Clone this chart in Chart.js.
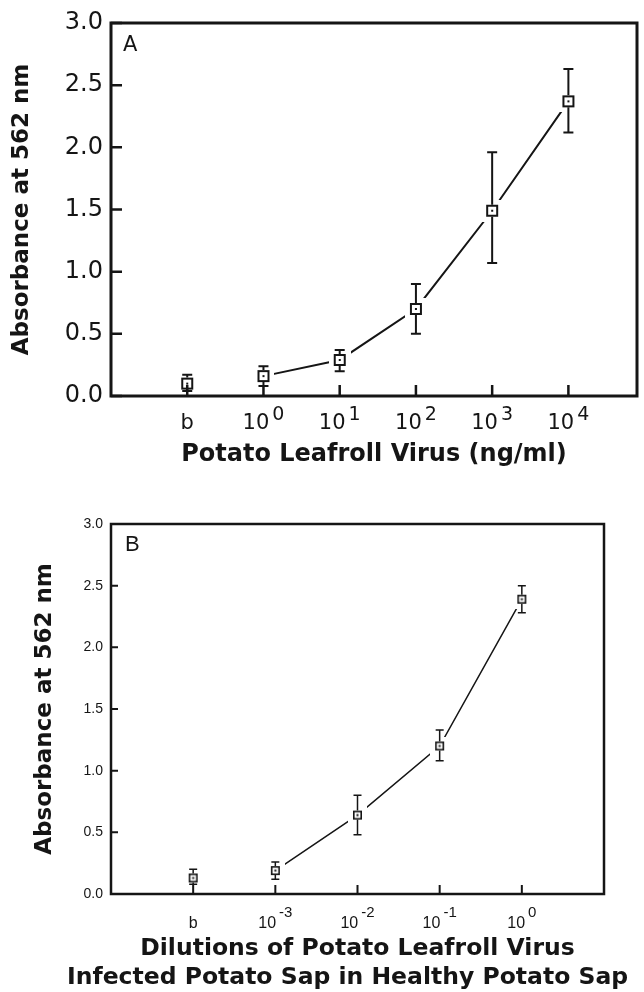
<!DOCTYPE html>
<html>
<head>
<meta charset="utf-8">
<script src="https://cdn.jsdelivr.net/npm/chart.js@4.4.0/dist/chart.umd.min.js"></script>
<style>
html, body { margin: 0; padding: 0; background: #fff; }
#wrapA { position: absolute; left: 0; top: 0; width: 644px; height: 470px; }
#wrapB { position: absolute; left: 0; top: 470px; width: 644px; height: 522px; }
</style>
</head>
<body>
<div id="wrapA"><canvas id="chartA" width="644" height="470"></canvas></div>
<div id="wrapB"><canvas id="chartB" width="644" height="522"></canvas></div>
<script>
/* ---------- panel A: purified virus ---------- */
const tickBaseA = ["b", "10", "10", "10", "10", "10"];
const tickExpA = ["", "0", "1", "2", "3", "4"];
const meanA = [0.10, 0.16, 0.29, 0.70, 1.49, 2.37];
const lowA = [0.04, 0.08, 0.20, 0.50, 1.07, 2.12];
const highA = [0.17, 0.24, 0.37, 0.90, 1.96, 2.63];

/* ---------- panel B: sap dilutions ---------- */
const tickBaseB = ["b", "10", "10", "10", "10"];
const tickExpB = ["", "-3", "-2", "-1", "0"];
const meanB = [0.13, 0.19, 0.64, 1.20, 2.39];
const lowB = [0.08, 0.12, 0.48, 1.08, 2.28];
const highB = [0.20, 0.26, 0.80, 1.33, 2.50];
const xTitleB = ["Dilutions of Potato Leafroll Virus", "Infected Potato Sap in Healthy Potato Sap"];

const yTicks = [0, 0.5, 1.0, 1.5, 2.0, 2.5, 3.0];
const ink = "#151515";

// open square with a dot, on a white pad so the line stops short of it
function makeMarker(box, pad, lw) {
  const c = document.createElement("canvas");
  c.width = box + pad * 2;
  c.height = box + pad * 2;
  const g = c.getContext("2d");
  g.fillStyle = "#fff";
  g.fillRect(0, 0, c.width, c.height);
  g.strokeStyle = ink;
  g.lineWidth = lw;
  g.strokeRect(pad + lw / 2, pad + lw / 2, box - lw, box - lw);
  g.fillStyle = ink;
  g.fillRect(c.width / 2 - 1, c.height / 2 - 1, 2, 2);
  return c;
}

function paperPlugin(o) {
  return {
    id: "paper",
    afterDatasetsDraw(chart) {
      const ctx = chart.ctx;
      const a = chart.chartArea;
      const xs = chart.scales.x;
      const ys = chart.scales.y;
      ctx.save();
      ctx.strokeStyle = ink;
      ctx.fillStyle = ink;

      // error bars
      ctx.lineWidth = o.errWidth;
      o.mean.forEach((m, i) => {
        const x = xs.getPixelForValue(i);
        const yc = ys.getPixelForValue(m);
        const yt = ys.getPixelForValue(o.high[i]);
        const yb = ys.getPixelForValue(o.low[i]);
        const h = o.box / 2;
        ctx.beginPath();
        ctx.moveTo(x, yt); ctx.lineTo(x, yc - h);
        ctx.moveTo(x, yc + h); ctx.lineTo(x, yb);
        ctx.moveTo(x - o.cap, yt); ctx.lineTo(x + o.cap, yt);
        ctx.moveTo(x - o.cap, yb); ctx.lineTo(x + o.cap, yb);
        ctx.stroke();
      });

      // frame
      ctx.lineWidth = o.frameWidth;
      ctx.strokeRect(a.left, a.top, a.right - a.left, a.bottom - a.top);

      // inward tick marks
      ctx.lineWidth = o.tickWidth;
      ctx.beginPath();
      o.base.forEach((b, i) => {
        const x = xs.getPixelForValue(i);
        ctx.moveTo(x, a.bottom);
        ctx.lineTo(x, a.bottom - o.xTickLen);
      });
      yTicks.forEach(v => {
        const y = ys.getPixelForValue(v);
        ctx.moveTo(a.left, y);
        ctx.lineTo(a.left + o.yTickLen, y);
      });
      ctx.stroke();

      // x tick labels with superscripts
      ctx.textBaseline = "middle";
      ctx.textAlign = "left";
      o.base.forEach((b, i) => {
        const x = xs.getPixelForValue(i);
        ctx.font = o.baseFont;
        const wb = ctx.measureText(b).width;
        ctx.font = o.expFont;
        const we = o.exp[i] ? ctx.measureText(o.exp[i]).width + o.expGap : 0;
        const x0 = x - (wb + we) / 2;
        const y = a.bottom + o.labelDy;
        ctx.font = o.baseFont;
        ctx.fillText(b, x0, y);
        if (o.exp[i]) {
          ctx.font = o.expFont;
          ctx.fillText(o.exp[i], x0 + wb + o.expGap, y - o.expRaise);
        }
      });

      // wide x title (not squeezed to the plot width)
      if (o.title) {
        ctx.font = o.titleFont;
        ctx.textAlign = "center";
        o.title.forEach((t, k) => {
          ctx.fillText(t, (a.left + a.right) / 2 + o.titleDx[k], a.bottom + o.titleDy + k * o.titleGap);
        });
        ctx.textAlign = "left";
      }

      // panel letter
      ctx.font = o.letterFont;
      ctx.textBaseline = "top";
      ctx.fillText(o.letter, a.left + o.letterDx, a.top + o.letterDy);
      ctx.restore();
    }
  };
}

function points(arr, from) {
  return arr.slice(from).map((v, i) => ({ x: i + from, y: v }));
}

/* ========== PANEL A ========== */
const markerA = makeMarker(12, 5, 2);

new Chart(document.getElementById("chartA"), {
  type: "line",
  data: {
    datasets: [
      { data: points(meanA, 0).slice(0, 1), showLine: false, pointStyle: markerA, pointRadius: 5 },
      { data: points(meanA, 1), borderColor: ink, borderWidth: 2, tension: 0, pointStyle: markerA, pointRadius: 5 }
    ]
  },
  options: {
    responsive: false,
    animation: false,
    events: [],
    layout: { padding: { top: 23, right: 2, left: 0, bottom: 0 } },
    plugins: { legend: { display: false }, tooltip: { enabled: false } },
    scales: {
      x: {
        type: "linear", min: -1, max: 5.9,
        afterFit(s) { s.height = 74; },
        ticks: { display: false },
        grid: { display: false, drawTicks: false },
        border: { display: false },
        title: {
          display: true, text: "Potato Leafroll Virus (ng/ml)", color: ink,
          font: { family: "DejaVu Sans", size: 24, weight: "bold" },
          padding: { top: 0, bottom: 1 }
        }
      },
      y: {
        min: 0, max: 3,
        afterFit(s) { s.width = 111; },
        afterBuildTicks(s) { s.ticks = yTicks.map(v => ({ value: v })); },
        ticks: {
          color: ink, padding: 8,
          font: { family: "DejaVu Sans", size: 24 },
          callback: v => v.toFixed(1)
        },
        grid: { display: false, drawTicks: false },
        border: { display: false },
        title: {
          display: true, text: "Absorbance at 562 nm", color: ink,
          font: { family: "DejaVu Sans", size: 23, weight: "bold" },
          padding: { top: 8, bottom: 0 }
        }
      }
    }
  },
  plugins: [paperPlugin({
    mean: meanA, low: lowA, high: highA, base: tickBaseA, exp: tickExpA,
    box: 12, cap: 5, errWidth: 2, frameWidth: 3, tickWidth: 2.5,
    xTickLen: 11, yTickLen: 11,
    baseFont: "21px 'DejaVu Sans'", expFont: "19px 'DejaVu Sans'", expGap: 3, expRaise: 9, labelDy: 28,
    letter: "A", letterFont: "21px 'DejaVu Sans'", letterDx: 12, letterDy: 12
  })]
});

/* ========== PANEL B ========== */
const markerB = makeMarker(9, 5, 1.6);

new Chart(document.getElementById("chartB"), {
  type: "line",
  data: {
    datasets: [
      { data: points(meanB, 0).slice(0, 1), showLine: false, pointStyle: markerB, pointRadius: 5 },
      { data: points(meanB, 1), borderColor: ink, borderWidth: 1.5, tension: 0, pointStyle: markerB, pointRadius: 5 }
    ]
  },
  options: {
    responsive: false,
    animation: false,
    events: [],
    layout: { padding: { top: 54, right: 40, left: 0, bottom: 0 } },
    plugins: { legend: { display: false }, tooltip: { enabled: false } },
    scales: {
      x: {
        type: "linear", min: -1, max: 5,
        afterFit(s) { s.height = 98; },
        ticks: { display: false },
        grid: { display: false, drawTicks: false },
        border: { display: false },
        title: { display: false }
      },
      y: {
        min: 0, max: 3,
        afterFit(s) { s.width = 111; },
        afterBuildTicks(s) { s.ticks = yTicks.map(v => ({ value: v })); },
        ticks: {
          color: ink, padding: 8,
          font: { family: "Liberation Sans", size: 14 },
          callback: v => v.toFixed(1)
        },
        grid: { display: false, drawTicks: false },
        border: { display: false },
        title: {
          display: true, text: "Absorbance at 562 nm", color: ink,
          font: { family: "DejaVu Sans", size: 23, weight: "bold" },
          padding: { top: 31, bottom: 0 }
        }
      }
    }
  },
  plugins: [paperPlugin({
    mean: meanB, low: lowB, high: highB, base: tickBaseB, exp: tickExpB,
    box: 9, cap: 4, errWidth: 1.5, frameWidth: 2.5, tickWidth: 2,
    xTickLen: 9, yTickLen: 7,
    baseFont: "16px 'Liberation Sans'", expFont: "15px 'Liberation Sans'", expGap: 3, expRaise: 11, labelDy: 30,
    title: xTitleB, titleFont: "bold 23.5px 'DejaVu Sans'", titleDy: 55, titleGap: 29, titleDx: [0, -10],
    letter: "B", letterFont: "22px 'Liberation Sans'", letterDx: 14, letterDy: 10
  })]
});
</script>
</body>
</html>
